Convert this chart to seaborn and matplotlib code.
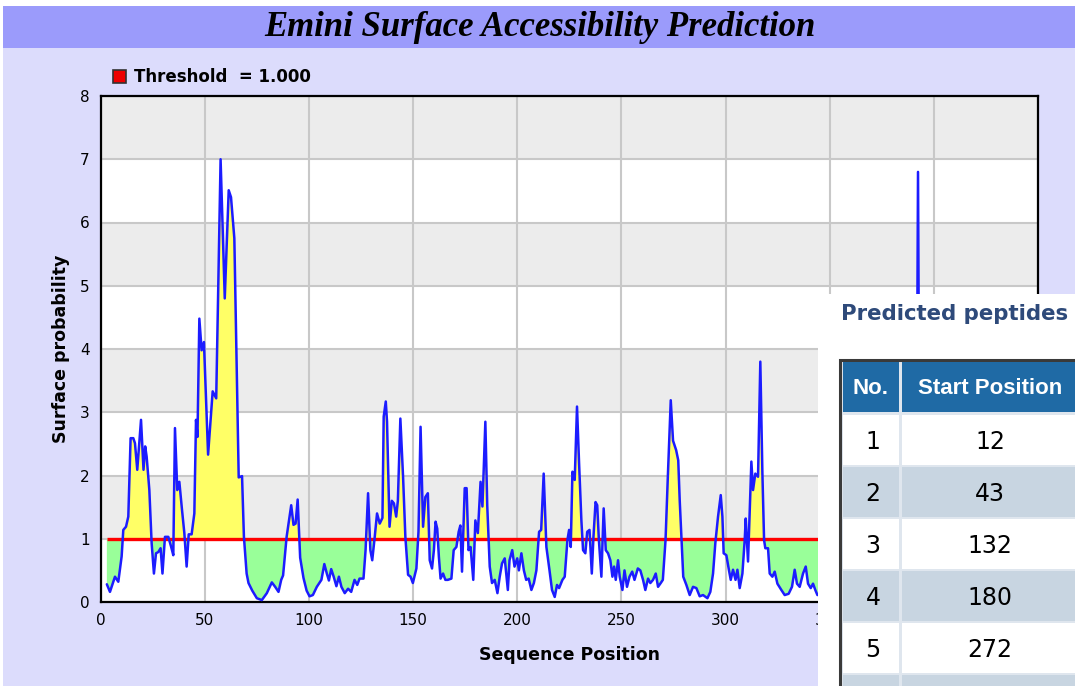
import matplotlib
matplotlib.use("Agg")
import matplotlib.pyplot as plt
import seaborn as sns
import numpy as np
from matplotlib.patches import Rectangle

# ---------------- data ----------------
positions = [
    3.0, 4.5, 6.9, 8.5, 10.1, 10.9, 12.2, 13.3, 14.4, 15.7, 16.5, 17.6, 19.4, 20.6, 21.4, 22.1,
    23.4, 24.5, 25.6, 26.6, 27.7, 28.8, 29.7, 30.9, 32.5, 33.8, 34.9, 35.7, 36.8, 37.8, 39.1,
    40.2, 41.3, 42.3, 43.7, 45.0, 45.8, 46.5, 47.4, 48.5, 49.6, 51.6, 53.8, 55.5, 57.6, 59.6,
    61.5, 62.6, 64.2, 66.3, 67.9, 68.8, 70.1, 71.0, 72.8, 75.0, 77.4, 79.8, 82.2, 83.8, 85.4,
    86.7, 87.6, 89.3, 91.5, 92.6, 93.6, 94.6, 95.8, 97.4, 98.9, 100.3, 101.9, 103.8, 106.0,
    107.4, 108.6, 109.6, 110.7, 111.9, 113.2, 114.4, 115.6, 117.2, 118.8, 120.3, 121.9, 123.2,
    124.3, 126.2, 127.2, 128.4, 129.5, 130.4, 131.6, 132.7, 134.0, 135.3, 135.9, 136.9, 137.5,
    138.7, 139.8, 140.8, 141.9, 142.7, 143.9, 145.2, 146.3, 147.6, 148.8, 149.9, 151.6, 152.6,
    153.6, 154.8, 155.9, 157.1, 158.0, 159.1, 160.0, 160.8, 161.6, 162.4, 163.2, 164.4, 165.5,
    166.7, 168.4, 169.5, 170.8, 171.9, 172.7, 173.5, 174.8, 175.7, 176.6, 177.6, 178.9, 179.9,
    181.1, 182.4, 183.3, 184.7, 185.6, 186.8, 187.9, 189.2, 190.5, 191.6, 192.7, 194.0, 195.5,
    196.3, 197.6, 198.7, 200.0, 200.8, 202.0, 203.2, 204.3, 205.5, 206.8, 208.0, 209.2, 210.5,
    211.5, 212.7, 214.0, 215.5, 216.7, 218.0, 219.1, 220.1, 221.7, 222.8, 224.1, 224.9, 225.7,
    226.5, 227.6, 228.7, 229.7, 230.8, 231.6, 232.7, 233.6, 234.7, 235.8, 236.6, 237.6, 238.4,
    239.2, 240.4, 241.5, 242.5, 243.6, 244.7, 245.7, 246.5, 247.3, 248.4, 249.2, 250.5, 251.5,
    252.7, 253.9, 255.2, 256.3, 257.9, 259.1, 260.4, 261.5, 262.8, 263.9, 265.2, 266.5, 267.6,
    268.9, 269.9, 271.2, 272.3, 273.7, 274.8, 276.3, 277.3, 278.0, 278.9, 279.7, 281.2, 282.8,
    284.4, 286.0, 287.6, 289.2, 291.3, 292.7, 294.0, 295.1, 296.4, 297.7, 298.5, 299.1, 300.4,
    301.6, 302.5, 303.6, 304.8, 305.7, 306.8, 308.1, 309.2, 309.7, 310.8, 311.6, 312.4, 313.2,
    314.3, 315.6, 316.7, 317.7, 318.5, 319.1, 320.4, 321.2, 322.5, 323.6, 324.9, 326.8, 328.4,
    330.3, 331.9, 333.2, 334.3, 335.6, 337.2, 338.5, 339.6, 340.9, 342.0, 343.1, 344.1,
    391.5, 392.4, 393.3,
]
surface = [
    0.28, 0.16, 0.40, 0.32, 0.72, 1.14, 1.19, 1.35, 2.59, 2.59, 2.51, 2.09, 2.88, 2.09, 2.46, 2.30,
    1.77, 0.93, 0.45, 0.77, 0.79, 0.85, 0.45, 1.03, 1.03, 0.88, 0.74, 2.75, 1.77, 1.90, 1.45,
    1.09, 0.56, 1.07, 1.07, 1.40, 2.88, 2.61, 4.48, 3.98, 4.11, 2.33, 3.33, 3.22, 7.00, 4.80,
    6.51, 6.40, 5.75, 1.97, 1.99, 1.03, 0.45, 0.30, 0.18, 0.06, 0.03, 0.14, 0.31, 0.24, 0.16,
    0.35, 0.42, 1.03, 1.53, 1.22, 1.24, 1.62, 0.70, 0.38, 0.18, 0.09, 0.11, 0.24, 0.35,
    0.60, 0.45, 0.34, 0.52, 0.40, 0.25, 0.40, 0.24, 0.14, 0.21, 0.16, 0.35, 0.27,
    0.37, 0.37, 0.82, 1.72, 0.82, 0.66, 1.03, 1.40, 1.24, 1.33, 2.93, 3.17, 2.85,
    1.19, 1.60, 1.56, 1.35, 1.60, 2.90, 1.98, 1.03, 0.43, 0.40, 0.30, 0.53, 1.11,
    2.77, 1.19, 1.66, 1.72, 0.66, 0.53, 0.82, 1.27, 1.16, 0.71, 0.37, 0.45, 0.35,
    0.35, 0.37, 0.82, 0.87, 1.11, 1.21, 0.48, 1.80, 1.80, 0.82, 0.87, 0.35, 1.29,
    1.09, 1.90, 1.51, 2.85, 1.53, 0.56, 0.30, 0.35, 0.14, 0.40, 0.61, 0.69, 0.19,
    0.66, 0.82, 0.56, 0.69, 0.50, 0.77, 0.50, 0.35, 0.37, 0.19, 0.30, 0.50, 1.11,
    1.14, 2.03, 0.87, 0.50, 0.19, 0.08, 0.27, 0.22, 0.35, 0.40, 0.98, 1.14, 0.87,
    2.06, 1.93, 3.09, 2.19, 1.29, 0.82, 0.77, 1.11, 1.14, 0.45, 1.03, 1.58, 1.53,
    0.98, 0.40, 1.48, 0.82, 0.77, 0.66, 0.40, 0.56, 0.35, 0.66, 0.40, 0.19, 0.50,
    0.24, 0.40, 0.48, 0.35, 0.53, 0.50, 0.35, 0.19, 0.37, 0.30, 0.35, 0.45, 0.24,
    0.30, 0.35, 0.98, 1.98, 3.19, 2.55, 2.40, 2.24, 1.61, 0.98, 0.40, 0.27, 0.11,
    0.24, 0.22, 0.09, 0.11, 0.06, 0.16, 0.45, 0.93, 1.35, 1.69, 1.35, 0.77, 0.74,
    0.51, 0.35, 0.51, 0.35, 0.51, 0.22, 0.45, 0.98, 1.32, 0.64, 1.45, 2.22, 1.77,
    2.03, 1.98, 3.80, 2.03, 0.98, 0.85, 0.85, 0.45, 0.40, 0.48, 0.29, 0.19, 0.11,
    0.13, 0.24, 0.51, 0.29, 0.24, 0.45, 0.56, 0.29, 0.22, 0.29, 0.19, 0.11,
    0.50, 6.80, 0.50,
]
threshold = 1.0
x_ticks = [0, 50, 100, 150, 200, 250, 300, 350, 400, 450]
y_ticks = [0, 1, 2, 3, 4, 5, 6, 7, 8]

peptide_no = [1, 2, 3, 4, 5]
start_positions = [12, 43, 132, 180, 272]

title_text = "Emini Surface Accessibility Prediction"
legend_text = "Threshold  = 1.000"

# ---------------- style ----------------
sns.set_style("white")
plt.rcParams["font.family"] = ["DejaVu Sans"]
plt.rcParams["text.color"] = "black"
plt.rcParams["axes.labelcolor"] = "black"

W, H = 1075, 686
fig = plt.figure(figsize=(W / 100, H / 100), dpi=100)
fig.patch.set_facecolor("white")

# background layer (pixel coordinates)
bg = fig.add_axes([0, 0, 1, 1], zorder=-1)
bg.set_xlim(0, W)
bg.set_ylim(H, 0)
bg.axis("off")
bg.add_patch(Rectangle((3, 6), W, H, facecolor="#dcdcfc", edgecolor="none"))
bg.add_patch(Rectangle((3, 6), W, 42, facecolor="#9b9bfb", edgecolor="none"))
bg.text(540, 28, title_text, ha="center", va="center", fontsize=25,
        family="Liberation Serif", fontweight="bold", style="italic", color="black")
bg.add_patch(Rectangle((113, 70), 13, 13, facecolor="#ee0000", edgecolor="#333333", lw=1.2))
bg.text(134, 77, legend_text, ha="left", va="center", fontsize=12,
        fontweight="bold", color="black")

# main chart
left, right, top, bottom = 100.6, 1038, 96, 602
ax = fig.add_axes([left / W, 1 - bottom / H, (right - left) / W, (bottom - top) / H], zorder=1)
ax.set_facecolor("white")
for lo in [1, 3, 5, 7]:
    ax.axhspan(lo, lo + 1, color="#ececec", zorder=0, lw=0)
ax.set_xlim(0, 450)
ax.set_ylim(0, 8)
ax.set_xticks(x_ticks)
ax.set_yticks(y_ticks)
ax.grid(True, color="#c8c8c8", lw=1.5, zorder=0.5)
ax.set_axisbelow(True)

pos = np.array(positions)
val = np.array(surface)
ax.fill_between(pos, val, threshold, where=val >= threshold, interpolate=True,
                color="#ffff66", lw=0, zorder=2)
ax.fill_between(pos, val, threshold, where=val <= threshold, interpolate=True,
                color="#99ff99", lw=0, zorder=2)
ax.hlines(threshold, pos[0], pos[-1], color="#ff0000", lw=2.4, zorder=3)
sns.lineplot(x=pos, y=val, sort=False, estimator=None, color="#1c1cff", lw=1.8,
             ax=ax, zorder=4)

for s in ax.spines.values():
    s.set_color("black")
    s.set_linewidth(1.6)
ax.tick_params(axis="both", direction="out", length=5, width=1.2, color="black",
               labelsize=11, labelcolor="black", pad=3)
ax.set_xlabel("Sequence Position", fontsize=12.5, fontweight="bold", labelpad=13,
              color="black")
ax.set_ylabel("Surface probability", fontsize=12.5, fontweight="bold", labelpad=7,
              color="black")

# overlay panel with the peptide table
ov = fig.add_axes([0, 0, 1, 1], zorder=10)
ov.set_xlim(0, W)
ov.set_ylim(H, 0)
ov.axis("off")
ov.patch.set_alpha(0)
ov.add_patch(Rectangle((818, 294), W - 818, H - 294, facecolor="white", edgecolor="none"))
ov.text(841, 314, "Predicted peptides", ha="left", va="center", fontsize=15.3,
        fontweight="bold", color="#2e4a7a")

tx0, ty0 = 840, 360
ov.add_patch(Rectangle((tx0, ty0), 260, 360, facecolor="#dfe6ee", edgecolor="#3a3a3a", lw=2.2))
col_x = [(843, 899), (902, 1100)]
header_h = (362, 412)
for (x0, x1) in col_x:
    ov.add_patch(Rectangle((x0, header_h[0]), x1 - x0, header_h[1] - header_h[0],
                           facecolor="#1f6aa5", edgecolor="none"))
ov.text(871, 388, "No.", ha="center", va="center", fontsize=16, fontweight="bold",
        family="Liberation Sans", color="white")
ov.text(990, 388, "Start Position", ha="center", va="center", fontsize=16,
        fontweight="bold", family="Liberation Sans", color="white")

row_h = 52
row_top = 414
for r in range(len(start_positions) + 1):
    y0 = row_top + r * row_h
    color = "white" if r % 2 == 0 else "#c8d5e1"
    for (x0, x1) in col_x:
        ov.add_patch(Rectangle((x0, y0 + 1), x1 - x0, row_h - 2, facecolor=color,
                               edgecolor="none"))
    if r < len(start_positions):
        yc = y0 + row_h / 2 + 2
        ov.text(873, yc, str(peptide_no[r]), ha="center", va="center", fontsize=17,
                color="black")
        ov.text(990, yc, str(start_positions[r]), ha="center", va="center", fontsize=17,
                color="black")

fig.savefig("out.png", dpi=100)
